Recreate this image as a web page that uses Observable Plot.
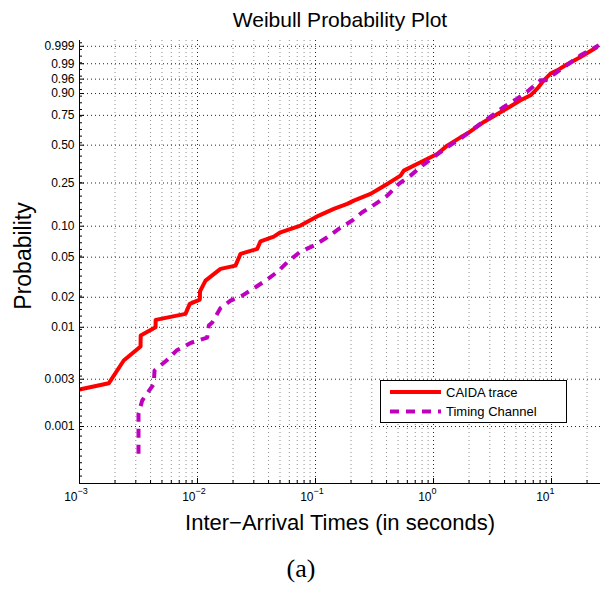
<!DOCTYPE html>
<html>
<head>
<meta charset="utf-8">
<script src="https://cdn.jsdelivr.net/npm/d3@7"></script>
<script src="https://cdn.jsdelivr.net/npm/@observablehq/plot@0.6"></script>
<style>
  body { margin: 0; background: #fff; }
  #wrap { position: relative; width: 602px; height: 589px; font-family: "Liberation Sans", Arial, Helvetica, sans-serif; }
  #chart svg { display: block; }
  #caption { width: 602px; height: 44px; padding-top: 2px; box-sizing: border-box; text-align: center; font-family: "Liberation Serif", "Times New Roman", serif; font-size: 26px; line-height: 44px; color: #000; }
  #legend { position: absolute; left: 380px; top: 380px; }
</style>
</head>
<body>
<div id="wrap">
  <div id="chart"></div>
  <div id="caption">(a)</div>
  <div id="legend"></div>
</div>
<script>
// ---- data (x in seconds, p = cumulative probability) ----
const caidaX = [0.001, 0.00177, 0.00237, 0.00329, 0.0033, 0.00441, 0.00442, 0.00791, 0.0086, 0.01046,
  0.0105, 0.01169, 0.01566, 0.02099, 0.02314, 0.03205, 0.0342, 0.04432, 0.05051, 0.07463,
  0.1067, 0.1429, 0.1856, 0.2112, 0.2925, 0.3439, 0.4052, 0.5253, 0.5602, 0.7762,
  1.075, 1.306, 1.694, 1.931, 2.669, 3.943, 5.46, 6.637, 7.563, 8.603,
  9.806, 11.18, 13.14, 17.62, 24.39];
const caidaP = [0.00236, 0.00273, 0.00463, 0.0064, 0.00826, 0.0100, 0.01187, 0.01364, 0.01718, 0.01896,
  0.02294, 0.02933, 0.03832, 0.0413, 0.05385, 0.0603, 0.07153, 0.07943, 0.0874, 0.1014,
  0.1261, 0.1457, 0.1622, 0.1739, 0.2001, 0.2217, 0.2455, 0.2894, 0.3186, 0.372,
  0.432, 0.4965, 0.5648, 0.5962, 0.6958, 0.7895, 0.86, 0.8902, 0.9242, 0.9563,
  0.9742, 0.9807, 0.9882, 0.99544, 0.99889];

const timingX = [0.003162, 0.003162, 0.0034, 0.004264, 0.004322, 0.005463, 0.006637, 0.008895, 0.01208, 0.01247,
  0.01332, 0.01566, 0.01905, 0.02392, 0.02954, 0.03771, 0.04734, 0.05846, 0.07318, 0.09674,
  0.1257, 0.1576, 0.2046, 0.2488, 0.3226, 0.4052, 0.5082, 0.6383, 0.802, 1.04,
  1.306, 1.694, 2.195, 2.502, 3.145, 3.943, 5.121, 6.422, 8.069, 8.897,
  11.18, 14.02, 17.62, 25.17];
const timingP = [0.00053, 0.00134, 0.00183, 0.00269, 0.00367, 0.00463, 0.00583, 0.00702, 0.00788, 0.0104,
  0.01115, 0.01559, 0.01853, 0.02078, 0.02424, 0.02933, 0.03562, 0.04523, 0.05584, 0.06494,
  0.07821, 0.0943, 0.1132, 0.1355, 0.1622, 0.1931, 0.2455, 0.2894, 0.3502, 0.4193,
  0.4845, 0.5539, 0.639, 0.6814, 0.7502, 0.815, 0.8708, 0.9163, 0.9563, 0.9563,
  0.9777, 0.9901, 0.99629, 0.99914];

const seriesNames = ["CAIDA trace", "Timing Channel"];
const yTickLabels = ["0.001", "0.003", "0.01", "0.02", "0.05", "0.10", "0.25", "0.50", "0.75", "0.90", "0.96", "0.99", "0.999"];
const xDecades = [1e-3, 1e-2, 1e-1, 1, 10];
const xDomain = [1e-3, 26];
const yDomainP = [0.000266, 0.99963];

const titleText = "Weibull Probability Plot";
const xLabelText = "Inter\u2212Arrival Times (in seconds)";
const yLabelText = "Probability";

// ---- build ----
const T = p => Math.log10(-Math.log(1 - p)); // Weibull probability transform
const caida = caidaX.map((x, i) => ({x, p: caidaP[i]}));
const timing = timingX.map((x, i) => ({x, p: timingP[i]}));

const minorX = [];
xDecades.forEach(d => { for (let k = 2; k <= 9; k++) if (d * k < xDomain[1]) minorX.push(d * k); });
const yTicksT = yTickLabels.map(s => T(+s));
const yDom = yDomainP.map(T);
const minorY = d3.range(-3.5, yDom[1], 0.0673);

const frameW = 602 - 79 - 2, frameH = 545 - 40 - 62;
const sup = d => String(Math.round(Math.log10(d))).replace("-", "\u2212");

const chart = Plot.plot({
  width: 602, height: 545,
  marginLeft: 79, marginRight: 2, marginTop: 40, marginBottom: 62,
  x: {type: "log", domain: xDomain, axis: null},
  y: {type: "linear", domain: yDom, axis: null},
  style: {fontFamily: '"Liberation Sans", Arial, Helvetica, sans-serif', color: "#000", background: "transparent", overflow: "visible"},
  marks: [
    // grid
    Plot.ruleX(minorX, {stroke: "#000", strokeOpacity: 0.45, strokeDasharray: "1,3"}),
    Plot.ruleX(xDecades.slice(1), {stroke: "#000", strokeOpacity: 0.85, strokeDasharray: "1,3"}),
    Plot.ruleY(yTicksT, {stroke: "#000", strokeOpacity: 0.85, strokeDasharray: "1,3"}),
    // series
    Plot.line(caida, {x: "x", y: d => T(d.p), stroke: "#ff0000", strokeWidth: 4, strokeLinejoin: "round", strokeLinecap: "butt"}),
    Plot.line(timing, {x: "x", y: d => T(d.p), stroke: "#bf00bf", strokeWidth: 4, strokeDasharray: "9,7", strokeLinejoin: "round", strokeLinecap: "butt"}),
    // axes lines
    Plot.ruleX([xDomain[0]], {stroke: "#000", strokeWidth: 1}),
    Plot.ruleY([yDom[0]], {stroke: "#000", strokeWidth: 1}),
    // ticks (inward)
    Plot.tickX(xDecades, {x: d => d, insetTop: frameH - 5, stroke: "#000"}),
    Plot.tickX(minorX, {x: d => d, insetTop: frameH - 3, stroke: "#000"}),
    Plot.tickY(yTicksT, {y: d => d, insetRight: frameW - 5, stroke: "#000"}),
    Plot.tickY(minorY, {y: d => d, insetRight: frameW - 3, stroke: "#000"}),
    // tick labels
    Plot.text(yTickLabels, {y: d => T(+d), text: d => d, frameAnchor: "left", dx: -5, textAnchor: "end", lineAnchor: "middle", fontSize: 12}),
    Plot.text(xDecades, {x: d => d, text: () => "10", frameAnchor: "bottom", dy: 17, dx: -2, textAnchor: "end", lineAnchor: "bottom", fontSize: 12}),
    Plot.text(xDecades, {x: d => d, text: sup, frameAnchor: "bottom", dy: 10, dx: -2, textAnchor: "start", lineAnchor: "bottom", fontSize: 9}),
    // titles
    Plot.text([titleText], {frameAnchor: "top", dy: -14, lineAnchor: "bottom", fontSize: 21}),
    Plot.text([xLabelText], {frameAnchor: "bottom", dy: 46, lineAnchor: "bottom", fontSize: 22}),
    Plot.text([yLabelText], {frameAnchor: "left", dx: -49, dy: -6, rotate: -90, textAnchor: "middle", lineAnchor: "bottom", fontSize: 23})
  ]
});
document.getElementById("chart").appendChild(chart);

// legend (inside the axes, lower right)
const lg = d3.select("#legend").append("svg").attr("width", 188).attr("height", 44);
lg.append("rect").attr("x", 0.5).attr("y", 0.5).attr("width", 186).attr("height", 42)
  .attr("fill", "#fff").attr("stroke", "#000");
const styles = [{stroke: "#ff0000", dash: null}, {stroke: "#bf00bf", dash: "9,7"}];
seriesNames.forEach((name, i) => {
  const cy = 12 + i * 19.5;
  lg.append("line").attr("x1", 10).attr("x2", 61).attr("y1", cy).attr("y2", cy)
    .attr("stroke", styles[i].stroke).attr("stroke-width", 4).attr("stroke-dasharray", styles[i].dash);
  lg.append("text").attr("x", 66).attr("y", cy + 4.5).attr("font-size", 13)
    .attr("font-family", '"Liberation Sans", Arial, sans-serif').text(name);
});
</script>
</body>
</html>
